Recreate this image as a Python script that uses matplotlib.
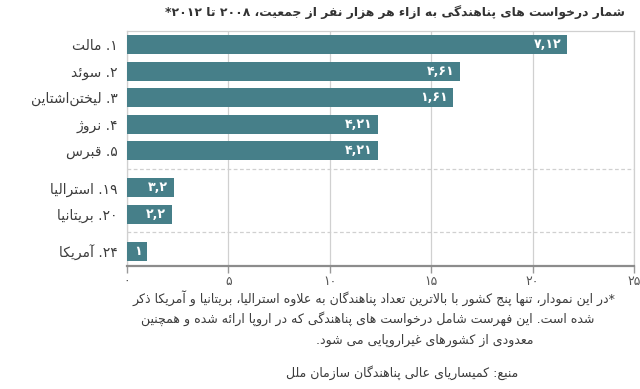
import re
import matplotlib
matplotlib.use("Agg")
import matplotlib.pyplot as plt

plt.rcParams['font.family'] = ['DejaVu Sans']

# data
countries = ["۱. مالت", "۲. سوئد", "۳. لیختن\u200cاشتاین", "۴. نروژ", "۵. قبرس",
             "۱۹. استرالیا", "۲۰. بریتانیا", "۲۴. آمریکا"]
values = [21.7, 16.4, 16.1, 12.4, 12.4, 2.3, 2.2, 1.0]
value_labels = ["۷,۱۲", "۴,۶۱", "۱,۶۱", "۴,۲۱", "۴,۲۱", "۳,۲", "۲,۲", "۱"]
xticks = [0, 5, 10, 15, 20, 25]
xtick_labels = ["۰", "۵", "۱۰", "۱۵", "۲۰", "۲۵"]

title = "شمار درخواست های پناهندگی به ازاء هر هزار نفر از جمعیت، ۲۰۰۸ تا ۲۰۱۲*"
notes = [
    "*در این نمودار، تنها پنج کشور با بالاترین تعداد پناهندگان به علاوه استرالیا، بریتانیا و آمریکا ذکر",
    "شده است. این فهرست شامل درخواست های پناهندگی که در اروپا ارائه شده و همچنین",
    "معدودی از کشورهای غیراروپایی می شود.",
]
source = "منبع: کمیساریای عالی پناهندگان سازمان ملل"

# row layout (groups separated by gaps)
ypos = [0, 1, 2, 3, 4, 5.39, 6.39, 7.78]
separators = [4.67, 7.05]

# --- tiny arabic/persian shaper, matplotlib draws glyphs one by one ---
FORMS = {
    'ا': ('\ufe8d', '\ufe8e', None, None), 'آ': ('\ufe81', '\ufe82', None, None),
    'ب': ('\ufe8f', '\ufe90', '\ufe91', '\ufe92'), 'پ': ('\ufb56', '\ufb57', '\ufb58', '\ufb59'),
    'ت': ('\ufe95', '\ufe96', '\ufe97', '\ufe98'), 'ث': ('\ufe99', '\ufe9a', '\ufe9b', '\ufe9c'),
    'ج': ('\ufe9d', '\ufe9e', '\ufe9f', '\ufea0'), 'چ': ('\ufb7a', '\ufb7b', '\ufb7c', '\ufb7d'),
    'ح': ('\ufea1', '\ufea2', '\ufea3', '\ufea4'), 'خ': ('\ufea5', '\ufea6', '\ufea7', '\ufea8'),
    'د': ('\ufea9', '\ufeaa', None, None), 'ذ': ('\ufeab', '\ufeac', None, None),
    'ر': ('\ufead', '\ufeae', None, None), 'ز': ('\ufeaf', '\ufeb0', None, None),
    'ژ': ('\ufb8a', '\ufb8b', None, None),
    'س': ('\ufeb1', '\ufeb2', '\ufeb3', '\ufeb4'), 'ش': ('\ufeb5', '\ufeb6', '\ufeb7', '\ufeb8'),
    'ص': ('\ufeb9', '\ufeba', '\ufebb', '\ufebc'), 'ض': ('\ufebd', '\ufebe', '\ufebf', '\ufec0'),
    'ط': ('\ufec1', '\ufec2', '\ufec3', '\ufec4'), 'ظ': ('\ufec5', '\ufec6', '\ufec7', '\ufec8'),
    'ع': ('\ufec9', '\ufeca', '\ufecb', '\ufecc'), 'غ': ('\ufecd', '\ufece', '\ufecf', '\ufed0'),
    'ف': ('\ufed1', '\ufed2', '\ufed3', '\ufed4'), 'ق': ('\ufed5', '\ufed6', '\ufed7', '\ufed8'),
    'ک': ('\ufb8e', '\ufb8f', '\ufb90', '\ufb91'), 'گ': ('\ufb92', '\ufb93', '\ufb94', '\ufb95'),
    'ل': ('\ufedd', '\ufede', '\ufedf', '\ufee0'), 'م': ('\ufee1', '\ufee2', '\ufee3', '\ufee4'),
    'ن': ('\ufee5', '\ufee6', '\ufee7', '\ufee8'), 'و': ('\ufeed', '\ufeee', None, None),
    'ه': ('\ufee9', '\ufeea', '\ufeeb', '\ufeec'), 'ی': ('\ufbfc', '\ufbfd', '\ufbfe', '\ufbff'),
    'ئ': ('\ufe89', '\ufe8a', '\ufe8b', '\ufe8c'),
}
LAM_ALEF = {'ا': ('\ufefb', '\ufefc'), 'آ': ('\ufef5', '\ufef6')}


def shape(s):
    out = []
    i, n = 0, len(s)
    while i < n:
        c = s[i]
        if c not in FORMS:
            if c != '\u200c':
                out.append(c)
            i += 1
            continue
        prev = i > 0 and s[i - 1] in FORMS and FORMS[s[i - 1]][2] is not None
        if c == 'ل' and i + 1 < n and s[i + 1] in LAM_ALEF:
            out.append(LAM_ALEF[s[i + 1]][1 if prev else 0])
            i += 2
            continue
        f = FORMS[c]
        nxt = f[2] is not None and i + 1 < n and s[i + 1] in FORMS
        if prev and nxt:
            out.append(f[3])
        elif prev:
            out.append(f[1])
        elif nxt:
            out.append(f[2])
        else:
            out.append(f[0])
        i += 1
    return ''.join(out)


def fa(s):
    rev = shape(s)[::-1]
    return re.sub(r'[0-9۰-۹]+', lambda m: m.group(0)[::-1], rev)


bar_color = "#467f89"
grid_color = "#d0d0d0"
text_color = "#3c3c3c"

fig = plt.figure(figsize=(6.4, 3.89), dpi=100)
ax = fig.add_axes([0.1984, 0.3162, 0.7922, 0.6041])

ax.barh(ypos, values, height=0.71, color=bar_color, zorder=3)
for y, v, lab in zip(ypos, values, value_labels):
    ax.annotate(lab, (v, y), xytext=(-4, 0), textcoords="offset points",
                ha="right", va="center", color="white", fontsize=9, fontweight="bold", zorder=4)

for s in separators:
    ax.axhline(s, color=grid_color, lw=0.9, ls=(0, (3, 2)), zorder=1)

ax.set_xlim(0, 25)
ax.set_ylim(8.33, -0.51)
ax.set_xticks(xticks)
ax.set_xticklabels(xtick_labels, fontsize=9, color="#555555")
ax.set_yticks(ypos)
ax.set_yticklabels([fa(c) for c in countries], fontsize=10, color=text_color)
ax.tick_params(axis="y", length=0, pad=6.5)
ax.tick_params(axis="x", length=5, width=1, color="#999999", pad=1.5)
ax.grid(axis="x", color=grid_color, lw=0.9, zorder=0)

for side in ["top", "right", "left"]:
    ax.spines[side].set_color(grid_color)
    ax.spines[side].set_linewidth(0.9)
ax.spines["bottom"].set_color("#8c8c8c")
ax.spines["bottom"].set_linewidth(1.6)

fig.text(0.977, 0.968, fa(title), ha="right", va="center", fontsize=8.9,
         fontweight="bold", color="#333333")

# footnote lines, centred where they sit in the original
note_x = [374, 368, 425]
note_y = [298, 319, 340]
for line, x, y in zip(notes, note_x, note_y):
    fig.text(x / 640, 1 - y / 389, fa(line), ha="center", va="center", fontsize=9.0, color=text_color)
fig.text(402 / 640, 1 - 373 / 389, fa(source), ha="center", va="center", fontsize=9.0, color=text_color)

fig.savefig("out.png", dpi=100)
